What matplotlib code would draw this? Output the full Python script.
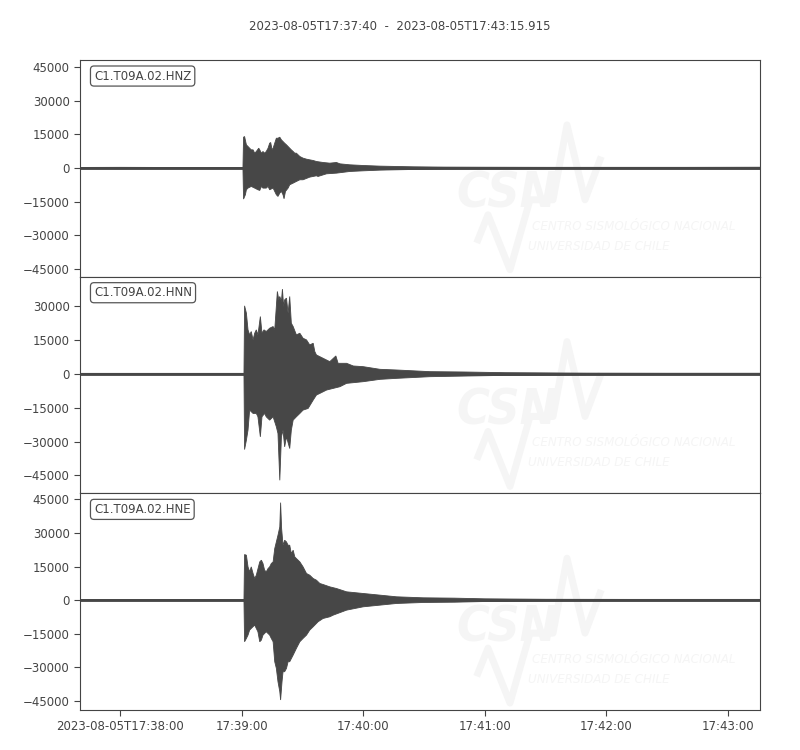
import matplotlib
matplotlib.use("Agg")
import matplotlib.pyplot as plt
from matplotlib.ticker import MultipleLocator

# Seismogram recreation: 3 components, min/max envelopes
# time axis = seconds after 2023-08-05T17:37:40
title = "2023-08-05T17:37:40  -  2023-08-05T17:43:15.915"
t_end = 335.915

channels = ["C1.T09A.02.HNZ", "C1.T09A.02.HNN", "C1.T09A.02.HNE"]

# --- HNZ ---
tu_hnz = [0, 20, 40, 60, 80.5, 80.8, 81.3, 82.2, 83.0, 83.8, 84.6, 85.5, 86.3, 87.1, 88.3, 88.8, 89.6, 90.4,
          91.2, 92.0, 92.9, 93.7, 94.2, 94.9, 95.4, 96.2, 97.0, 97.8, 98.7, 99.5, 100.3, 101.1, 102.0,
          102.8, 103.6, 104.4, 105.3, 106.1, 106.9, 108.6, 110.2, 111.9, 113.5, 115.2, 116.8, 120.1,
          123.4, 126.7, 128.4, 133.3, 139.9, 148.2, 156.4, 164.7, 180, 200, 230, 260, 300, 335.9]
up_hnz = [300, 350, 300, 300, 300, 13780, 14080, 10370, 9630, 8880, 8140, 8140, 6660, 7400, 8880, 8140, 6660, 7400,
          6660, 7400, 8880, 11110, 11410, 8140, 8880, 11110, 13330, 13330, 13780, 12590, 11850, 11110, 10370,
          9630, 8880, 8140, 7400, 6660, 6660, 5180, 4440, 3990, 3690, 3400, 2950, 2510,
          2210, 2510, 1910, 1470, 1170, 880, 730, 580, 450, 400, 350, 350, 350, 400]
tl_hnz = [0, 20, 40, 60, 80.5, 80.8, 81.7, 82.2, 83.0, 84.6, 86.3, 87.9, 88.8, 89.6, 90.4, 92.0, 92.9, 93.7,
          95.4, 97.0, 97.8, 98.7, 99.5, 100.3, 100.8, 101.5, 102.8, 103.6, 105.3, 106.9, 108.6, 110.2,
          113.5, 116.8, 117.6, 121.8, 126.7, 133.3, 139.9, 148.2, 156.4, 164.7, 180, 200, 230, 260, 300, 335.9]
lo_hnz = [-300, -350, -300, -300, -300, -13800, -11880, -9650, -8910, -8170, -8910, -9650, -9950, -8170, -8910, -8910, -8170, -9650,
          -8910, -11880, -12620, -11140, -10390, -11880, -13660, -10390, -8910, -7430, -6690, -5950, -5200, -5200,
          -4020, -3420, -3720, -2540, -2240, -1500, -1210, -900, -750, -610, -450, -400, -350, -350, -350, -400]

# --- HNN ---
tu_hnn = [0, 40, 80, 81.0, 81.3, 82.2, 83.0, 83.8, 84.6, 85.5, 86.3, 87.1, 87.9, 89.1, 89.9, 90.9, 92.0, 93.7,
          95.4, 96.2, 97.5, 98.2, 98.7, 99.5, 100.0, 100.6, 101.1, 102.0, 102.8, 103.6, 104.4, 105.3, 106.9,
          108.6, 110.2, 111.9, 113.5, 115.2, 116.0, 116.8, 120.1, 123.4, 126.4, 127.5, 131.7, 135.0, 139.9,
          148.2, 156.4, 172.9, 190, 210, 250, 290, 335.9]
up_hnn = [300, 300, 300, 300, 30260, 27000, 19600, 17360, 18850, 15140, 18100, 19600, 17360, 25510, 18100, 19600, 18850, 20330,
          21070, 19600, 36640, 32930, 34420, 32190, 37680, 29960, 32930, 33670, 27000, 34420, 22550, 21070, 17360,
          18100, 15880, 15140, 12910, 13650, 9940, 8460, 6980, 5500, 8020, 4760, 4760, 3570, 3270,
          2090, 1790, 1050, 900, 600, 400, 350, 350]
tl_hnn = [0, 40, 80, 81.0, 81.3, 82.2, 83.0, 83.8, 85.5, 87.1, 87.9, 89.1, 89.9, 91.2, 92.0, 93.7, 95.4, 97.0,
          97.8, 98.7, 99.5, 100.3, 101.1, 102.0, 103.6, 104.4, 105.3, 106.9, 108.6, 110.2, 112.7, 115.2,
          116.8, 118.5, 121.8, 125.1, 128.4, 131.7, 139.9, 148.2, 156.4, 172.9, 190, 210, 250, 290, 335.9]
lo_hnn = [-300, -300, -300, -300, -33510, -29350, -24900, -16010, -17490, -17490, -18970, -27870, -18970, -17490, -18970, -20460, -18970, -23420,
          -26390, -47150, -27870, -24900, -32320, -27870, -33060, -24900, -20460, -18970, -17490, -16010, -15270, -11560,
          -9330, -8590, -7110, -6370, -5630, -4140, -3400, -2360, -1920, -1180, -900, -600, -400, -350, -350]

# --- HNE ---
tu_hne = [0, 40, 80, 81.0, 81.3, 82.2, 83.0, 83.8, 84.6, 85.5, 86.3, 87.1, 88.8, 89.6, 90.4, 91.2, 92.0, 92.9,
          93.7, 94.5, 95.4, 96.2, 97.0, 97.8, 98.7, 99.1, 99.6, 100.3, 101.1, 102.0, 102.8, 103.6, 104.4,
          105.3, 106.1, 106.9, 108.6, 110.2, 111.9, 113.5, 115.2, 116.8, 118.5, 120.1, 123.4, 126.7, 131.7,
          139.9, 148.2, 156.4, 169.6, 185, 200, 230, 270, 335.9]
up_hne = [300, 300, 300, 300, 20330, 20030, 14840, 12620, 14840, 11880, 9650, 11130, 17065, 17810, 16330, 13360, 12620, 14100,
          14840, 16330, 17065, 23000, 25960, 28930, 32640, 43460, 31900, 24480, 26700, 25960, 24480, 24480, 20770,
          22260, 19290, 18550, 17065, 14840, 11880, 11130, 9650, 8910, 7430, 6980, 5940, 5200, 3720,
          2980, 2240, 1500, 1050, 900, 600, 400, 350, 350]
tl_hne = [0, 40, 80, 81.0, 81.3, 82.2, 83.0, 83.8, 84.6, 86.3, 87.9, 88.8, 89.6, 90.4, 92.0, 93.7, 94.5, 95.4,
          96.2, 97.0, 97.8, 98.7, 99.1, 99.8, 100.3, 101.1, 102.0, 102.8, 103.6, 105.3, 106.1, 106.9, 108.6,
          110.2, 111.9, 113.5, 115.2, 117.6, 120.1, 123.4, 125.1, 131.7, 139.9, 148.2, 156.4, 169.6,
          185, 200, 230, 270, 335.9]
lo_hne = [-300, -300, -300, -300, -18530, -17040, -15560, -13340, -12600, -11110, -14080, -18530, -17790, -15560, -14080, -15560, -17040, -18530,
          -27430, -30390, -36330, -40770, -44480, -36330, -31880, -31880, -30390, -27430, -27430, -24460, -22980, -21490, -18530,
          -17040, -15560, -13340, -11850, -9630, -8150, -7400, -6660, -4440, -2960, -2210, -1470, -1030,
          -900, -600, -400, -350, -350]

ylims = [(-48400, 48200), (-52950, 43200), (-48950, 47600)]

xtick_pos = [20, 80, 140, 200, 260, 320]
xtick_labels = ["2023-08-05T17:38:00", "17:39:00", "17:40:00", "17:41:00", "17:42:00", "17:43:00"]

wave_color = "#474747"
text_color = "#444444"
mark_color = "#f5f5f5"

fig, axes = plt.subplots(3, 1, figsize=(8, 7.5), dpi=100, sharex=True)
fig.subplots_adjust(left=0.1, right=0.95, top=0.92, bottom=0.0533, hspace=0)
fig.suptitle(title, y=0.973, fontsize=8.5, color=text_color)

traces = [(tu_hnz, up_hnz, tl_hnz, lo_hnz),
          (tu_hnn, up_hnn, tl_hnn, lo_hnn),
          (tu_hne, up_hne, tl_hne, lo_hne)]

# zigzag of the CSN logo, in axes fractions
zig_x = [(x - 80) / 680 for x in [478, 488, 510, 530, 553, 567, 585, 600]]
zig_y = [1 - (y - 60) / 217 for y in [240, 215, 270, 200, 200, 125, 200, 160]]

for ax, (tu, up, tl, lo), name, yl in zip(axes, traces, channels, ylims):
    # faint watermark
    ax.plot(zig_x, zig_y, color=mark_color, lw=5, transform=ax.transAxes, zorder=0)
    ax.text(0.628, 0.318, "CSN", transform=ax.transAxes, ha="center", va="baseline",
            fontsize=36, fontweight="bold", fontstyle="italic", fontstretch="condensed",
            color=mark_color, zorder=0, clip_on=True)
    ax.text(0.665, 0.217, "CENTRO SISMOLÓGICO NACIONAL", transform=ax.transAxes,
            fontsize=9.5, fontstyle="italic", fontstretch="condensed", color=mark_color,
            zorder=0, clip_on=True)
    ax.text(0.659, 0.124, "UNIVERSIDAD DE CHILE", transform=ax.transAxes,
            fontsize=9.5, fontstyle="italic", fontstretch="condensed", color=mark_color,
            zorder=0, clip_on=True)

    # waveform as min/max envelope polygon
    ax.fill(list(tu) + list(tl)[::-1], list(up) + list(lo)[::-1],
            color=wave_color, lw=0.6, zorder=2)
    ax.plot([0, t_end], [0, 0], color=wave_color, lw=2, zorder=2)

    ax.text(0.0206, 0.926, name, transform=ax.transAxes, va="center", ha="left",
            fontsize=8.5, color=text_color, zorder=5,
            bbox=dict(boxstyle="round,pad=0.3", fc="white", ec="#555555", lw=0.9))

    ax.set_ylim(*yl)
    ax.yaxis.set_major_locator(MultipleLocator(15000))
    ax.tick_params(axis="both", labelsize=8.5, colors=text_color, length=4)
    for s in ax.spines.values():
        s.set_color("#444444")

axes[0].set_xlim(0, t_end)
axes[2].set_xticks(xtick_pos)
axes[2].set_xticklabels(xtick_labels)
for ax in axes[:2]:
    ax.tick_params(axis="x", bottom=False, labelbottom=False)

plt.savefig("out.png", dpi=100)
